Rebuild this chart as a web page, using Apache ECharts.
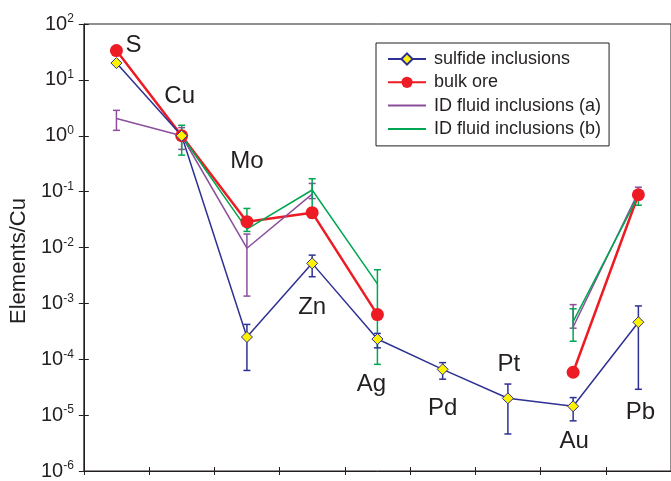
<!DOCTYPE html>
<html>
<head>
<meta charset="utf-8">
<script src="https://cdn.jsdelivr.net/npm/echarts@6/dist/echarts.min.js"></script>
<style>
html,body{margin:0;padding:0;background:#fff;}
#c{width:671px;height:481px;}
</style>
</head>
<body>
<div id="c"></div>
<script>
// ---- data ----
const categories = ['S','Cu','Mo','Zn','Ag','Pd','Pt','Au','Pb'];
const yTicks = [1e-6,1e-5,1e-4,1e-3,1e-2,1e-1,1,10,100];

const sulfide   = [20, 1.0, 2.5e-4, 5.2e-3, 2.3e-4, 6.6e-5, 2.0e-5, 1.44e-5, 4.6e-4];
const sulfideLo = [null, null, 6.3e-5, 3.0e-3, 1.6e-4, 4.4e-5, 4.6e-6, 7.9e-6, 2.9e-5];
const sulfideHi = [null, null, 4.2e-4, 7.3e-3, 2.9e-4, 8.7e-5, 3.6e-5, 2.06e-5, 9.0e-4];

const bulkOre   = [33.4, 1.0, 0.029, 0.042, 6.3e-4, null, null, 5.85e-5, 0.088];

const fluidA    = [2.03, 1.0, 0.0097, 0.09, null, null, null, 3.77e-4, 0.098];
const fluidALo  = [1.25, 0.57, 1.35e-3, 0.075, null, null, null, 3.6e-4, 0.085];
const fluidAHi  = [2.85, 1.4, 0.0174, 0.14, null, null, null, 9.5e-4, 0.12];

const fluidB    = [null, 1.0, 0.0213, 0.107, 2.23e-3, null, null, 4.7e-4, 0.085];
const fluidBLo  = [null, 0.45, 0.0194, 0.034, 8.1e-5, null, null, 2.1e-4, 0.057];
const fluidBHi  = [null, 1.54, 0.05, 0.17, 4.0e-3, null, null, 8.0e-4, 0.1];

const seriesNames = ['sulfide inclusions','bulk ore','ID fluid inclusions (a)','ID fluid inclusions (b)'];

// ---- styling ----
const TXT = '#231F20';
const BLUE = '#2E3192', RED = '#ED1C24', PURPLE = '#8B4F9C', GREEN = '#00A651', YELLOW = '#FFF200';
const FONT = 'Liberation Sans, Arial, sans-serif';
// element label offsets (px) relative to the sulfide-inclusion points
const LABEL_OFFSETS = [[17,-18],[-2,-39],[0,-176],[0,44],[-6,45],[0,39],[1,-34],[1,35],[2,90]];

function errData(lo, hi) {
  const out = [];
  for (let i = 0; i < lo.length; i++) {
    if (lo[i] != null && hi[i] != null) out.push([i, lo[i], hi[i]]);
  }
  return out;
}
function errSeries(id, color, lo, hi) {
  return {
    type: 'custom', name: id, silent: true,
    data: errData(lo, hi),
    encode: { x: 0, y: [1, 2] },
    renderItem: function (params, api) {
      const x = api.value(0);
      const a = api.coord([x, api.value(1)]);
      const b = api.coord([x, api.value(2)]);
      const w = 3.5;
      const st = { stroke: color, lineWidth: 1.5 };
      return { type: 'group', children: [
        { type: 'line', shape: { x1: a[0], y1: a[1], x2: b[0], y2: b[1] }, style: st },
        { type: 'line', shape: { x1: a[0]-w, y1: a[1], x2: a[0]+w, y2: a[1] }, style: st },
        { type: 'line', shape: { x1: b[0]-w, y1: b[1], x2: b[0]+w, y2: b[1] }, style: st }
      ]};
    }
  };
}

const sulfideData = sulfide.map((v, i) => ({
  value: v,
  label: { show: true, position: 'inside', offset: LABEL_OFFSETS[i], formatter: categories[i],
           fontSize: 24, fontFamily: FONT, color: TXT }
}));

const chart = echarts.init(document.getElementById('c'), null, { renderer: 'canvas' });
const yLabel = {
  color: TXT, margin: 10,
  formatter: function (v) {
    const e = Math.round(Math.log10(v));
    return '{b|10}{s|' + e + '}';
  },
  rich: {
    b: { fontSize: 20, fontFamily: FONT, color: TXT, lineHeight: 22 },
    s: { fontSize: 12, fontFamily: FONT, color: TXT, verticalAlign: 'top', lineHeight: 22 }
  }
};
chart.setOption({
  animation: false,
  backgroundColor: '#fff',
  grid: { left: 83, top: 24, width: 590, height: 449, show: true, borderColor: TXT, borderWidth: 1, backgroundColor: 'transparent' },
  legend: {
    data: [
      { name: seriesNames[0] },
      { name: seriesNames[1] },
      { name: seriesNames[2], itemStyle: { opacity: 0 } },
      { name: seriesNames[3], itemStyle: { opacity: 0 } }
    ],
    orient: 'vertical', left: 376, top: 43,
    padding: [7, 8, 8, 11],
    itemWidth: 38, itemHeight: 14, itemGap: 5.3,
    borderColor: TXT, borderWidth: 1, borderRadius: 0,
    textStyle: { fontSize: 18, fontFamily: FONT, color: TXT, padding: [0,0,0,3] },
    backgroundColor: '#fff'
  },
  xAxis: [
    { type: 'category', data: categories, boundaryGap: true, position: 'bottom',
      axisLine: { show: true, lineStyle: { color: TXT, width: 1 } },
      axisTick: { show: true, inside: false, length: 4, lineStyle: { color: TXT } },
      axisLabel: { show: false }, splitLine: { show: false } },
    { type: 'category', data: categories, boundaryGap: true, position: 'bottom',
      axisLine: { show: false },
      axisTick: { show: true, inside: true, length: 4, lineStyle: { color: TXT } },
      axisLabel: { show: false }, splitLine: { show: false } }
  ],
  yAxis: [
    { type: 'log', logBase: 10, min: 1e-6, max: 100, position: 'left',
      name: 'Elements/Cu', nameLocation: 'middle', nameGap: 52,
      nameTextStyle: { fontSize: 22, fontFamily: FONT, color: TXT, padding: [0, 27, 0, 0] },
      axisLine: { show: true, lineStyle: { color: TXT, width: 1 } },
      axisTick: { show: true, inside: false, length: 5, lineStyle: { color: TXT } },
      axisLabel: yLabel, splitLine: { show: false }, minorTick: { show: false } },
    { type: 'log', logBase: 10, min: 1e-6, max: 100, position: 'left',
      axisLine: { show: false },
      axisTick: { show: true, inside: true, length: 5, lineStyle: { color: TXT } },
      axisLabel: { show: false }, splitLine: { show: false } }
  ],
  series: [
    { name: seriesNames[1], type: 'line', data: bulkOre, connectNulls: false,
      symbol: 'circle', symbolSize: 13, showAllSymbol: true,
      lineStyle: { color: RED, width: 2.5 }, itemStyle: { color: RED, borderWidth: 0 } },
    errSeries('errA', PURPLE, fluidALo, fluidAHi),
    { name: seriesNames[2], type: 'line', data: fluidA, connectNulls: false,
      symbol: 'none', lineStyle: { color: PURPLE, width: 1.5 }, itemStyle: { color: PURPLE } },
    errSeries('errB', GREEN, fluidBLo, fluidBHi),
    { name: seriesNames[3], type: 'line', data: fluidB, connectNulls: false,
      symbol: 'none', lineStyle: { color: GREEN, width: 1.5 }, itemStyle: { color: GREEN } },
    errSeries('errS', BLUE, sulfideLo, sulfideHi),
    { name: seriesNames[0], type: 'line', data: sulfideData, connectNulls: false,
      symbol: 'diamond', symbolSize: 11, showAllSymbol: true,
      lineStyle: { color: BLUE, width: 1.5 }, itemStyle: { color: YELLOW, borderColor: BLUE, borderWidth: 1 } }
  ]
});
</script>
</body>
</html>
